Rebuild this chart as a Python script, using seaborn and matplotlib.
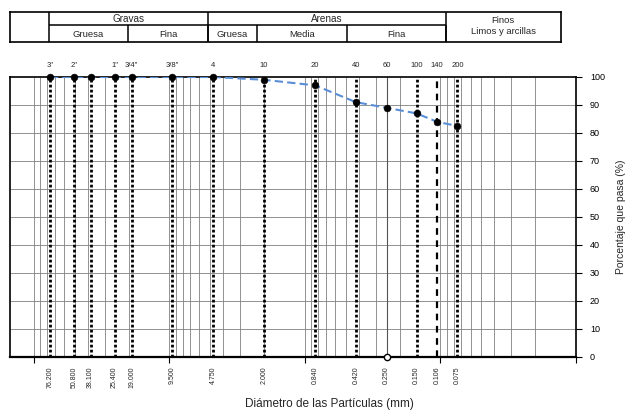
import matplotlib
matplotlib.use("Agg")
import matplotlib.pyplot as plt
import matplotlib.transforms as mtransforms
import numpy as np
import pandas as pd
import seaborn as sns

# Sieve data
sieve_names = ['3"', '2"', '', '1"', '3/4"', '3/8"', '4', '10', '20', '40', '60', '100', '140', '200']
sieve_mm = [76.2, 50.8, 38.1, 25.4, 19.0, 9.5, 4.75, 2.0, 0.84, 0.42, 0.25, 0.15, 0.106, 0.075]
sieve_mm_labels = ["76.200", "50.800", "38.100", "25.400", "19.000", "9.500", "4.750",
                   "2.000", "0.840", "0.420", "0.250", "0.150", "0.106", "0.075"]
passing_pct = [100, 100, 100, 100, 100, 100, 100, 99, 97, 91, 89, 87, 84, 82.5]
line_style = ["dot", "dot", "dot", "dot", "dot", "dot", "dot", "dot", "dot", "dot",
              "thin", "dot", "dash", "dot"]

# Soil classification header (boundaries in mm)
main_groups = ["Gravas", "Arenas"]
main_bounds = [(76.2, 4.75), (4.75, 0.075)]
sub_groups = ["Gruesa", "Fina", "Gruesa", "Media", "Fina"]
sub_bounds = [(76.2, 19.0), (19.0, 4.75), (4.75, 2.0), (2.0, 0.42), (0.42, 0.075)]
fines_title = ["Finos", "Limos y arcillas"]

X_MAX, X_MIN = 150, 0.01

sns.set_theme(style="white")
plt.rcParams["font.family"] = ["Liberation Sans", "DejaVu Sans"]

df = pd.DataFrame({"mm": sieve_mm, "pct": passing_pct})

fig = plt.figure(figsize=(6.33, 4.18), dpi=100)
W, H = 633, 418
ax = fig.add_axes([10 / W, (H - 357) / H, 566 / W, 280 / H])
ax.set_xscale("log")
ax.set_xlim(X_MAX, X_MIN)
ax.set_ylim(0, 100)

# log grid (1..9 per decade) and horizontal grid every 10 %
grid_x = [m * 10.0 ** e for e in range(-2, 3) for m in range(1, 10)]
grid_x = [g for g in grid_x if X_MIN < g < X_MAX]
ax.vlines(grid_x, 0, 100, colors="#808080", linewidth=0.6, zorder=1)
ax.hlines(np.arange(10, 100, 10), X_MIN, X_MAX, colors="#808080", linewidth=0.6, zorder=1)

# sieve verticals
for mm, st in zip(sieve_mm, line_style):
    if st == "dot":
        ax.vlines(mm, 0, 100, colors="black", linewidth=2.0, linestyles=(0, (1.0, 0.8)), zorder=2)
    elif st == "dash":
        ax.vlines(mm, 0, 100, colors="black", linewidth=1.6, linestyles=(0, (3.0, 2.5)), zorder=2)
    else:
        ax.vlines(mm, 0, 100, colors="#555555", linewidth=0.8, zorder=2)

# grading curve
sns.lineplot(data=df, x="mm", y="pct", ax=ax, color="#5a8ed6", linewidth=1.5,
             linestyle=(0, (4, 2)), zorder=3, estimator=None, sort=False)
sns.scatterplot(data=df, x="mm", y="pct", ax=ax, color="black", s=24,
                edgecolor="black", zorder=4, clip_on=False)
ax.plot([0.25], [0], marker="o", markersize=4.5, markerfacecolor="white",
        markeredgecolor="black", markeredgewidth=1.0, clip_on=False, zorder=5)

# axes styling
for side in ["left", "right", "top", "bottom"]:
    ax.spines[side].set_visible(True)
    ax.spines[side].set_color("black")
    ax.spines[side].set_linewidth(1.2)
ax.spines["bottom"].set_linewidth(1.6)

ax.yaxis.tick_right()
ax.yaxis.set_label_position("right")
ax.set_yticks(np.arange(0, 101, 10))
ax.tick_params(axis="y", which="both", right=True, left=False, length=4, width=0.8,
               labelsize=6.5, pad=6, colors="black")
ax.set_ylabel("Porcentaje que pasa (%)", fontsize=7.5, labelpad=8)

ax.set_xticks([0.01, 0.1, 1, 10, 100])
ax.set_xticklabels([])
ax.xaxis.set_minor_locator(matplotlib.ticker.NullLocator())
ax.tick_params(axis="x", which="major", bottom=True, length=4, width=0.8, colors="black")
ax.set_xlabel("Diámetro de las Partículas (mm)", fontsize=8.5)
ax.xaxis.set_label_coords(0.564, -0.145)

trans = mtransforms.blended_transform_factory(ax.transData, ax.transAxes)
for mm, lab in zip(sieve_mm, sieve_mm_labels):
    ax.text(mm, -0.035, lab, transform=trans, rotation=90, ha="center", va="top",
            fontsize=5.0)
for mm, name in zip(sieve_mm, sieve_names):
    ax.text(mm, 1.03, name, transform=trans, ha="center", va="bottom", fontsize=5.5)

# classification header
hx = fig.add_axes([10 / W, (H - 42) / H, 551 / W, 30 / H])
hx.set_xscale("log")
hx.set_xlim(X_MAX, X_MIN)
hx.set_ylim(0, 2)
hx.set_xticks([])
hx.set_yticks([])
hx.xaxis.set_minor_locator(matplotlib.ticker.NullLocator())
for side in hx.spines.values():
    side.set_color("black")
    side.set_linewidth(1.2)
hx.patch.set_alpha(0)

lw = 1.1
hx.vlines([main_bounds[0][0], main_bounds[1][0], main_bounds[1][1]], 0, 2, colors="black", linewidth=lw)
hx.hlines(1.1, main_bounds[0][0], main_bounds[1][1], colors="black", linewidth=lw)
for (a, b) in sub_bounds:
    hx.vlines(b, 0, 1.1, colors="black", linewidth=lw)


def gmid(a, b):
    return np.sqrt(a * b)


for name, (a, b) in zip(main_groups, main_bounds):
    hx.text(gmid(a, b), 1.5, name, ha="center", va="center", fontsize=7.2)
for name, (a, b) in zip(sub_groups, sub_bounds):
    hx.text(gmid(a, b), 0.52, name, ha="center", va="center", fontsize=6.8)
fx = gmid(main_bounds[1][1], X_MIN)
hx.text(fx, 1.45, fines_title[0], ha="center", va="center", fontsize=6.8)
hx.text(fx, 0.72, fines_title[1], ha="center", va="center", fontsize=6.8)

fig.savefig("out.png", dpi=100)
